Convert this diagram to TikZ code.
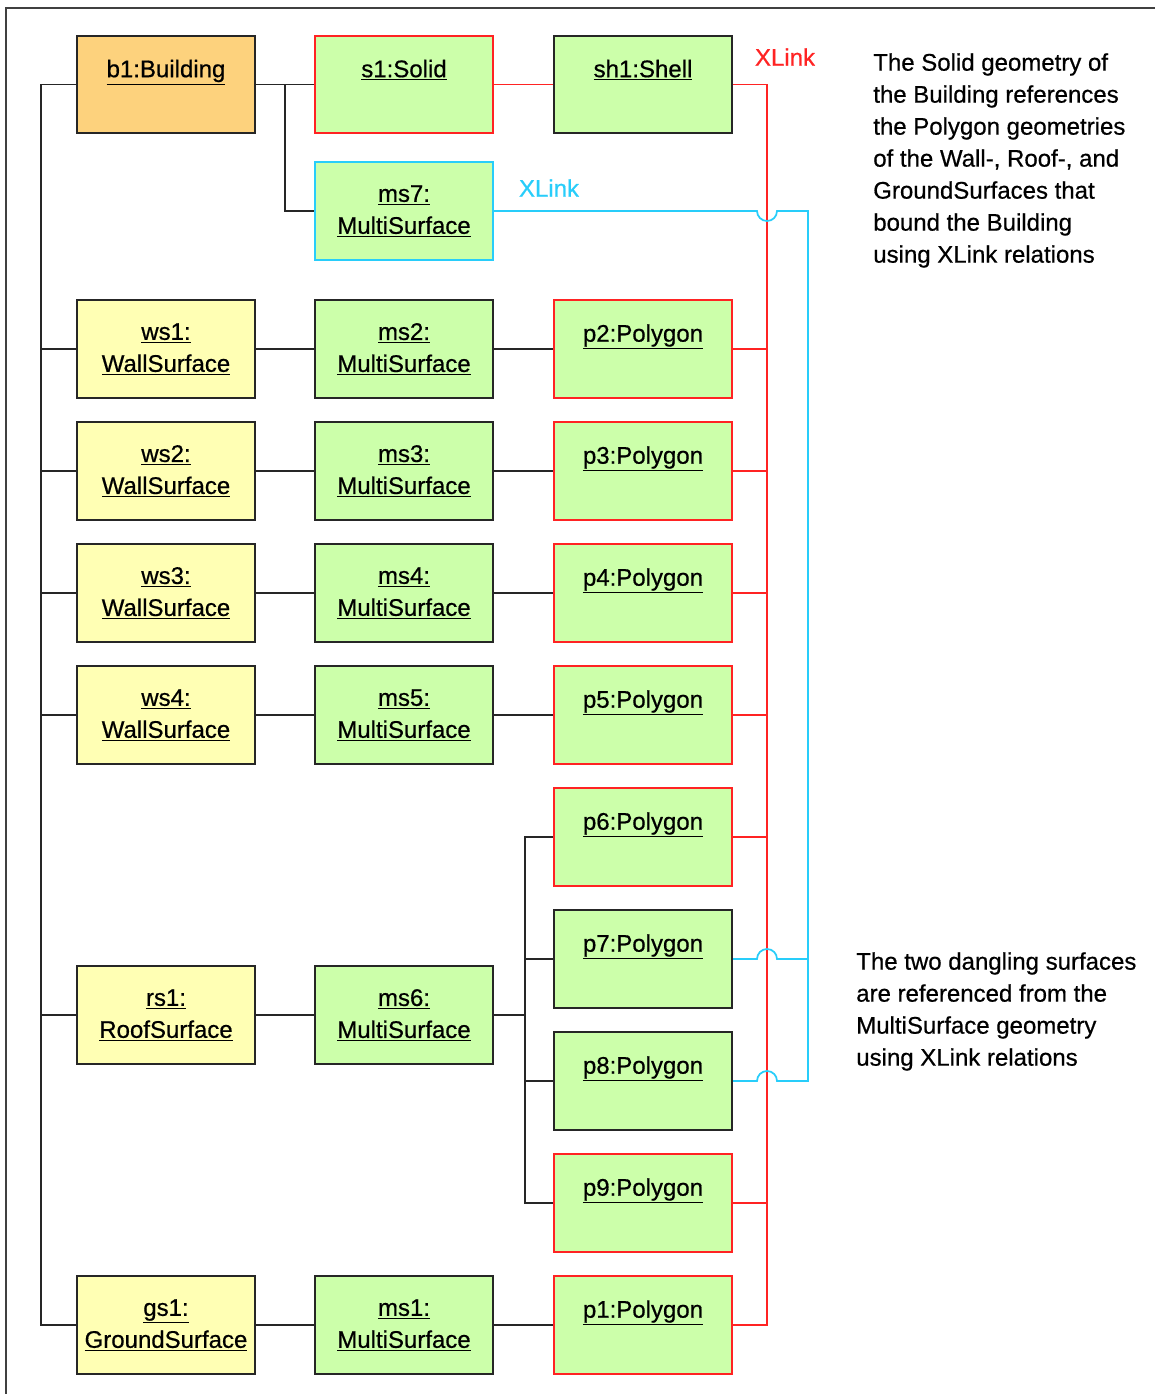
\documentclass[tikz,border=0pt]{standalone}
\usepackage{fontspec}
\setmainfont[FakeBold=0.6]{Liberation Sans}
\definecolor{bldg}{RGB}{253,210,125}
\definecolor{surf}{RGB}{255,255,180}
\definecolor{geom}{RGB}{204,255,170}
\definecolor{xred}{RGB}{255,35,35}
\definecolor{xcyan}{RGB}{40,205,250}
\newcommand{\inst}[1]{\underline{#1}}

\begin{document}
\begin{tikzpicture}[x=0.75pt, y=-0.75pt,
  obj/.style={rectangle, draw=black!85, line width=1.5pt, minimum width=133.5pt, minimum height=73pt,
              inner sep=0pt, align=center, font=\fontsize{18}{24}\selectfont},
  surface/.style={obj, fill=surf},
  geometry/.style={obj, fill=geom},
  link/.style={draw=black!85, line width=1.3pt},
  redlink/.style={draw=xred, line width=1.3pt},
  cyanlink/.style={draw=xcyan, line width=1.3pt},
  note/.style={inner sep=0pt, align=left, anchor=north west, font=\fontsize{18}{24}\selectfont}]
  \useasboundingbox (0,0) rectangle (1155,1394);
  \draw[black!75, line width=1.5pt] (6,1394) -- (6,8) -- (1155,8);

  % objects
  \node[obj, fill=bldg] (b1) at (166,84.5) {\inst{b1:Building}\\\mbox{}};
  \node[geometry, draw=xred] (s1) at (404,84.5) {\inst{s1:Solid}\\\mbox{}};
  \node[geometry] (sh1) at (643,84.5) {\inst{sh1:Shell}\\\mbox{}};
  \node[geometry, draw=xcyan] (ms7) at (404,211) {\inst{ms7:}\\\inst{MultiSurface}};

  \node[surface] (ws1) at (166,349) {\inst{ws1:}\\\inst{WallSurface}};
  \node[surface] (ws2) at (166,471) {\inst{ws2:}\\\inst{WallSurface}};
  \node[surface] (ws3) at (166,593) {\inst{ws3:}\\\inst{WallSurface}};
  \node[surface] (ws4) at (166,715) {\inst{ws4:}\\\inst{WallSurface}};
  \node[surface] (rs1) at (166,1015) {\inst{rs1:}\\\inst{RoofSurface}};
  \node[surface] (gs1) at (166,1325) {\inst{gs1:}\\\inst{GroundSurface}};

  \node[geometry] (ms2) at (404,349) {\inst{ms2:}\\\inst{MultiSurface}};
  \node[geometry] (ms3) at (404,471) {\inst{ms3:}\\\inst{MultiSurface}};
  \node[geometry] (ms4) at (404,593) {\inst{ms4:}\\\inst{MultiSurface}};
  \node[geometry] (ms5) at (404,715) {\inst{ms5:}\\\inst{MultiSurface}};
  \node[geometry] (ms6) at (404,1015) {\inst{ms6:}\\\inst{MultiSurface}};
  \node[geometry] (ms1) at (404,1325) {\inst{ms1:}\\\inst{MultiSurface}};

  \node[geometry, draw=xred] (p2) at (643,349) {\inst{p2:Polygon}\\\mbox{}};
  \node[geometry, draw=xred] (p3) at (643,471) {\inst{p3:Polygon}\\\mbox{}};
  \node[geometry, draw=xred] (p4) at (643,593) {\inst{p4:Polygon}\\\mbox{}};
  \node[geometry, draw=xred] (p5) at (643,715) {\inst{p5:Polygon}\\\mbox{}};
  \node[geometry, draw=xred] (p6) at (643,837) {\inst{p6:Polygon}\\\mbox{}};
  \node[geometry] (p7) at (643,959) {\inst{p7:Polygon}\\\mbox{}};
  \node[geometry] (p8) at (643,1081) {\inst{p8:Polygon}\\\mbox{}};
  \node[geometry, draw=xred] (p9) at (643,1203) {\inst{p9:Polygon}\\\mbox{}};
  \node[geometry, draw=xred] (p1) at (643,1325) {\inst{p1:Polygon}\\\mbox{}};

  % bus points
  \coordinate (lbus) at (41,1325);
  \coordinate (jb) at (285,84.5);
  \coordinate (gbus) at (525,1203);
  \coordinate (rbus) at (767,1325);
  \coordinate (cbus) at (808,1081);

  % aggregation lines
  \draw[link] (b1.west) -| (lbus) -- (gs1.west);
  \foreach \n in {ws1,ws2,ws3,ws4,rs1}
    \draw[link] (\n.west) -- (\n.west -| lbus);
  \draw[link] (b1) -- (s1);
  \draw[link] (jb) |- (ms7.west);
  \draw[link] (ws1) -- (ms2) -- (p2);
  \draw[link] (ws2) -- (ms3) -- (p3);
  \draw[link] (ws3) -- (ms4) -- (p4);
  \draw[link] (ws4) -- (ms5) -- (p5);
  \draw[link] (gs1) -- (ms1) -- (p1);
  \draw[link] (rs1) -- (ms6);
  \draw[link] (ms6.east) -- (ms6.east -| gbus);
  \draw[link] (p6.west) -| (gbus) -- (p9.west);
  \foreach \n in {p7,p8}
    \draw[link] (\n.west) -- (\n.west -| gbus);

  % XLinks of the shell
  \draw[redlink] (s1) -- (sh1);
  \draw[redlink] (sh1.east) -| (rbus) -- (p1.east);
  \foreach \n in {p2,p3,p4,p5,p6,p9}
    \draw[redlink] (\n.east) -- (\n.east -| rbus);
  \node[text=xred, inner sep=0pt, font=\fontsize{18}{24}\selectfont] (xlr) at (785,57) {XLink};

  % XLinks of the multisurface
  \draw[cyanlink] (ms7.east) -- (757,211) arc[start angle=180, end angle=0, radius=10]
    -- (ms7.east -| cbus) -- (cbus) -- (777,1081) arc[start angle=0, end angle=-180, radius=10] -- (p8.east);
  \draw[cyanlink] (p7.east) -- (757,959) arc[start angle=180, end angle=360, radius=10] -- (p7.east -| cbus);
  \node[text=xcyan, inner sep=0pt, font=\fontsize{18}{24}\selectfont] (xlc) at (549,188) {XLink};

  % notes
  \node[note] (n1) at (873,53) {The Solid geometry of\\the Building references\\the Polygon geometries\\of the Wall-, Roof-, and\\GroundSurfaces that\\bound the Building\\using XLink relations};
  \node[note] (n2) at (856,952) {The two dangling surfaces\\are referenced from the\\MultiSurface geometry\\using XLink relations};
\end{tikzpicture}
\end{document}
